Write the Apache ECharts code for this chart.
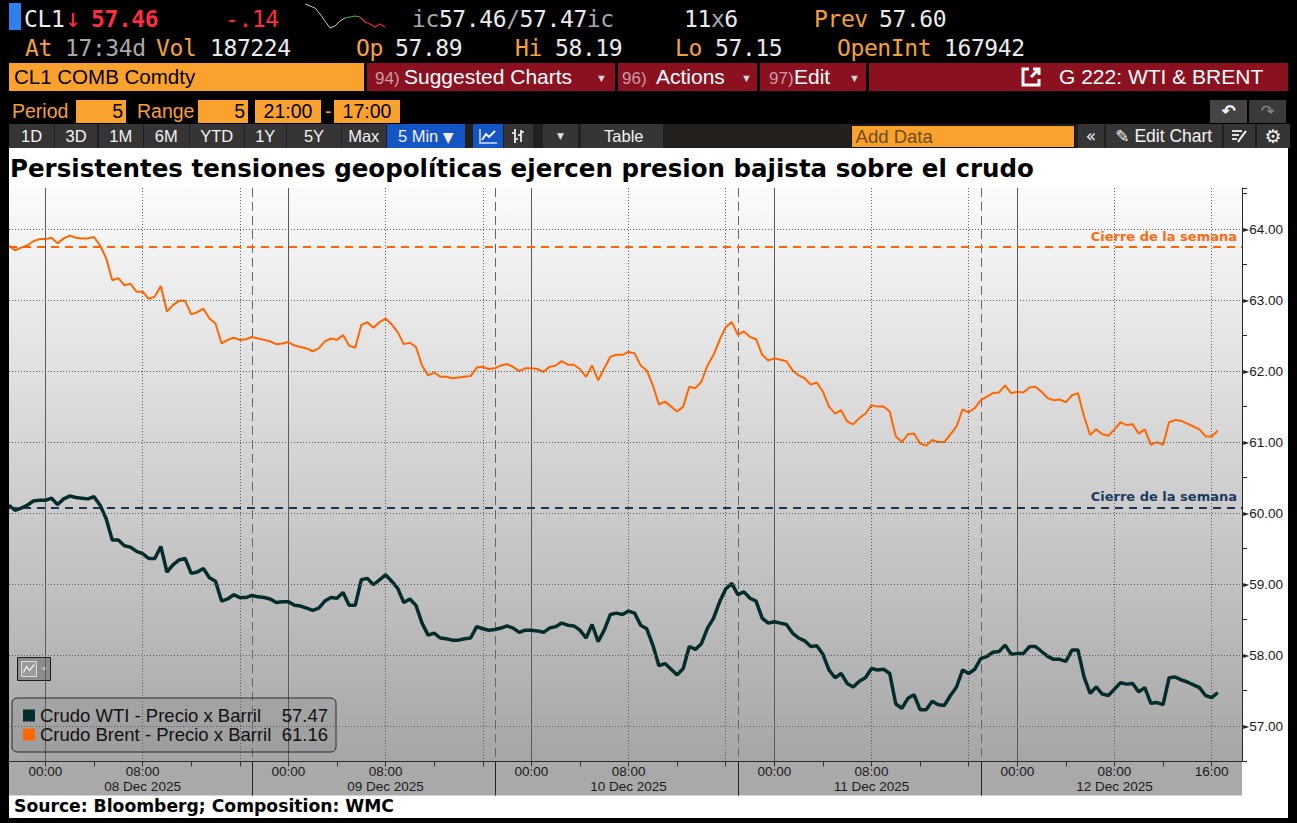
<!DOCTYPE html>
<html>
<head>
<meta charset="utf-8">
<title>CL1 COMB Comdty - G 222: WTI &amp; BRENT</title>
<script src="https://cdn.jsdelivr.net/npm/echarts@6/dist/echarts.min.js"></script>
<style>
  html, body { margin: 0; padding: 0; background: #000; }
  body { width: 1297px; height: 823px; position: relative; overflow: hidden;
         font-family: "Liberation Sans", Arial, sans-serif; }
  .abs { position: absolute; white-space: pre; }
  .mono { font-family: "DejaVu Sans Mono", monospace; font-size: 23px; letter-spacing: -0.4px; line-height: 24px; }
  .w { color: #ececec; } .o { color: #f7a03a; } .g { color: #a9a9a9; } .r { color: #ff2d3f; }
  .seg { position: absolute; top: 63px; height: 28px; background: #8b1121; }
  .r3 { top: 63px; line-height: 28px; font-size: 21px; color: #fff; }
  .num { font-size: 17px; color: #c99aa2; }
  .dd { font-size: 11px; color: #d8d8d8; }
  .r4 { top: 99.5px; height: 23px; line-height: 23px; font-size: 19.5px; }
  .box { background: #fba22e; color: #000; }
  .btn { position: absolute; top: 123.5px; height: 24.5px; line-height: 25px; background: #353535;
         color: #f2f2f2; font-size: 16.5px; text-align: center; white-space: pre; }
  .ico { white-space: normal; line-height: 0; }
  .ico svg { margin-top: 3px; }
  .blue { background: #1455c6; }
  #chart { position: absolute; left: 9px; top: 148px; width: 1279px; height: 670px; background: #fff; }
  #spark { position: absolute; left: 303px; top: 1px; width: 84px; height: 30px; }
</style>
</head>
<body>

<!-- header row 1 -->
<div class="abs" style="left:9px;top:3px;width:12px;height:27px;background:#2f80ed"></div>
<div class="abs mono w" style="left:24px;top:7px">CL1</div>
<div class="abs mono r" style="left:65px;top:6px;font-size:26px">↓</div>
<div class="abs mono r" style="left:91px;top:7px;font-weight:bold">57.46</div>
<div class="abs mono r" style="left:225px;top:7px">-.14</div>
<div id="spark"></div>
<div class="abs mono" style="left:412px;top:7px"><span class="g">ic</span><span class="w">57.46</span><span class="g">/</span><span class="w">57.47</span><span class="g">ic</span></div>
<div class="abs mono" style="left:684px;top:7px"><span class="w">11</span><span class="g">x</span><span class="w">6</span></div>
<div class="abs mono o" style="left:814px;top:7px">Prev</div>
<div class="abs mono w" style="left:879px;top:7px">57.60</div>

<!-- header row 2 -->
<div class="abs mono o" style="left:25px;top:36px">At</div>
<div class="abs mono g" style="left:65px;top:36px">17:34d</div>
<div class="abs mono o" style="left:156px;top:36px">Vol</div>
<div class="abs mono w" style="left:210px;top:36px">187224</div>
<div class="abs mono o" style="left:356px;top:36px">Op</div>
<div class="abs mono w" style="left:395px;top:36px">57.89</div>
<div class="abs mono o" style="left:515px;top:36px">Hi</div>
<div class="abs mono w" style="left:555px;top:36px">58.19</div>
<div class="abs mono o" style="left:675px;top:36px">Lo</div>
<div class="abs mono w" style="left:715px;top:36px">57.15</div>
<div class="abs mono o" style="left:837px;top:36px">OpenInt</div>
<div class="abs mono w" style="left:944px;top:36px">167942</div>

<!-- header row 3 -->
<div class="abs box" style="left:9px;top:63px;width:355px;height:28px"></div>
<div class="abs" style="left:14px;top:63px;line-height:28px;font-size:20.5px;color:#000">CL1 COMB Comdty</div>
<div class="seg" style="left:367px;width:248px"></div>
<div class="seg" style="left:618px;width:139px"></div>
<div class="seg" style="left:760px;width:106px"></div>
<div class="seg" style="left:869px;width:419px"></div>
<div class="abs r3" style="left:375px"><span class="num">94)</span></div>
<div class="abs r3" style="left:404px">Suggested Charts</div>
<div class="abs r3 dd" style="left:596px;line-height:30px">▼</div>
<div class="abs r3" style="left:622px"><span class="num">96)</span></div>
<div class="abs r3" style="left:656px">Actions</div>
<div class="abs r3 dd" style="left:741px;line-height:30px">▼</div>
<div class="abs r3" style="left:769px"><span class="num">97)</span></div>
<div class="abs r3" style="left:794px">Edit</div>
<div class="abs r3 dd" style="left:849px;line-height:30px">▼</div>
<svg class="abs" style="left:1020px;top:66px" width="22" height="22" viewBox="0 0 22 22">
  <path d="M9 3 H3 V19 H19 V13" fill="none" stroke="#fff" stroke-width="3"/>
  <path d="M11 11 L19 3 M13 3 H19 V9" fill="none" stroke="#fff" stroke-width="3"/>
</svg>
<div class="abs r3" style="left:1059px">G 222: WTI &amp; BRENT</div>

<!-- header row 4 -->
<div class="abs r4 o" style="left:12px">Period</div>
<div class="abs r4 box" style="left:76px;width:50px;text-align:right"><span style="padding-right:3px">5</span></div>
<div class="abs r4 o" style="left:137px">Range</div>
<div class="abs r4 box" style="left:198px;width:50px;text-align:right"><span style="padding-right:3px">5</span></div>
<div class="abs r4 box" style="left:255px;width:66px;text-align:center">21:00</div>
<div class="abs r4 o" style="left:325px">-</div>
<div class="abs r4 box" style="left:334px;width:66px;text-align:center">17:00</div>
<div class="abs r4" style="left:1210px;width:37px;background:#444;color:#fff;text-align:center;font-family:'DejaVu Sans';font-size:17px;font-weight:bold">↶</div>
<div class="abs r4" style="left:1249px;width:37px;background:#3a3a3a;color:#8a8a8a;text-align:center;font-family:'DejaVu Sans';font-size:17px">↷</div>

<!-- header row 5 : toolbar -->
<div class="abs" style="left:9px;top:123.5px;width:1281px;height:24.5px;background:#221f1c"></div>
<div class="btn" style="left:9px;width:45px">1D</div>
<div class="btn" style="left:55px;width:42px">3D</div>
<div class="btn" style="left:98.5px;width:44.5px">1M</div>
<div class="btn" style="left:144px;width:44.5px">6M</div>
<div class="btn" style="left:190px;width:53.5px">YTD</div>
<div class="btn" style="left:244.5px;width:41.5px">1Y</div>
<div class="btn" style="left:287px;width:54px">5Y</div>
<div class="btn" style="left:342px;width:43.5px">Max</div>
<div class="btn blue" style="left:386.5px;width:78.5px">5 Min <span style="font-family:'DejaVu Sans';font-size:14px">▼</span></div>
<div class="btn blue ico" style="left:472.5px;width:30px"><svg width="20" height="18" viewBox="0 0 20 18"><path d="M2 2 V16 H19" fill="none" stroke="#cfe0ff" stroke-width="1.5"/><path d="M4 13 L8 7 L11 10 L17 4" fill="none" stroke="#fff" stroke-width="1.8"/></svg></div>
<div class="btn ico" style="left:503.5px;width:29.5px"><svg width="18" height="18" viewBox="0 0 18 18"><path d="M6 2 V16 M3 6 H6 M6 12 H9 M12 3 V15 M9 8 H12 M12 5 H15" fill="none" stroke="#fff" stroke-width="1.6"/></svg></div>
<div class="btn" style="left:543px;width:35px;font-family:'DejaVu Sans';font-size:9px;color:#ddd">▼</div>
<div class="btn" style="left:580.5px;width:82px;text-align:right"><span style="padding-right:19px">Table</span></div>
<div class="abs" style="left:850.5px;top:124.5px;width:222.5px;height:21.5px;background:#fba22e;border:1px solid #111;color:#6e4d17;font-size:18.5px;line-height:22px"> Add Data</div>
<div class="btn" style="left:1078px;width:26px;font-family:'DejaVu Sans';font-size:17px">«</div>
<div class="btn" style="left:1106px;width:115.5px;font-size:17.5px"><span style="font-family:'DejaVu Sans';font-size:17px">✎</span> Edit Chart</div>
<div class="btn ico" style="left:1223.5px;width:31px"><svg width="18" height="18" viewBox="0 0 18 18"><path d="M2 4 H12 M2 8 H9 M2 12 H7" stroke="#ddd" stroke-width="1.8"/><path d="M8 15 L10 12 L16 4" fill="none" stroke="#fff" stroke-width="2"/></svg></div>
<div class="btn" style="left:1256.5px;width:33px;font-family:'DejaVu Sans';font-size:19px">⚙</div>

<div id="chart"></div>

<script>
// ---------- data (30-minute bars) ----------
const chartTitle = 'Persistentes tensiones geopolíticas ejercen presion bajista sobre el crudo';
const sourceNote = 'Source: Bloomberg; Composition: WMC';
const wtiName = 'Crudo WTI - Precio x Barril';
const brentName = 'Crudo Brent - Precio x Barril';
const closeLabel = 'Cierre de la semana';

// trading sessions 21:00 -> 17:00, one per day
const sessionDays = ['08 Dec 2025', '09 Dec 2025', '10 Dec 2025', '11 Dec 2025', '12 Dec 2025'];
const barsPerSession = 40;   // 21:00 .. 16:30
const padBars = 4;           // empty space after the last bar

const brentPrices = [
  63.77, 63.70, 63.74, 63.77, 63.83, 63.86, 63.86, 63.88, 63.80, 63.87,
  63.91, 63.88, 63.87, 63.87, 63.89, 63.77, 63.59, 63.28, 63.31, 63.21,
  63.23, 63.12, 63.12, 63.02, 63.05, 63.20, 62.84, 62.93, 62.99, 62.99,
  62.80, 62.83, 62.88, 62.74, 62.67, 62.39, 62.44, 62.47, 62.44, 62.45,
  62.48, 62.46, 62.44, 62.42, 62.38, 62.39, 62.41, 62.36, 62.34, 62.32,
  62.28, 62.32, 62.42, 62.46, 62.44, 62.51, 62.36, 62.33, 62.65, 62.69,
  62.61, 62.69, 62.74, 62.66, 62.55, 62.38, 62.40, 62.34, 62.08, 61.94,
  61.98, 61.92, 61.92, 61.90, 61.91, 61.92, 61.93, 62.05, 62.06, 62.03,
  62.04, 62.08, 62.10, 62.06, 62.00, 62.04, 62.04, 62.03, 61.99, 62.06,
  62.08, 62.14, 62.09, 62.09, 62.03, 61.92, 62.08, 61.87, 62.04, 62.20,
  62.23, 62.23, 62.27, 62.25, 62.08, 62.01, 61.80, 61.53, 61.57, 61.50,
  61.43, 61.50, 61.78, 61.76, 61.85, 62.08, 62.23, 62.44, 62.62, 62.69,
  62.51, 62.56, 62.48, 62.45, 62.23, 62.15, 62.18, 62.16, 62.14, 62.01,
  61.94, 61.90, 61.81, 61.84, 61.71, 61.50, 61.40, 61.45, 61.29, 61.25,
  61.34, 61.40, 61.52, 61.50, 61.50, 61.43, 61.08, 61.00, 61.11, 61.12,
  60.98, 60.95, 61.03, 61.00, 61.00, 61.11, 61.22, 61.46, 61.42, 61.48,
  61.59, 61.64, 61.69, 61.70, 61.80, 61.69, 61.71, 61.70, 61.77, 61.78,
  61.71, 61.62, 61.59, 61.60, 61.56, 61.66, 61.69, 61.36, 61.10, 61.18,
  61.11, 61.09, 61.18, 61.28, 61.24, 61.25, 61.12, 61.18, 60.96, 61.00,
  60.96, 61.28, 61.31, 61.30, 61.26, 61.22, 61.18, 61.08, 61.08, 61.16
];

const wtiPrices = [
  60.11, 60.04, 60.07, 60.11, 60.17, 60.18, 60.18, 60.21, 60.12, 60.20,
  60.24, 60.22, 60.21, 60.20, 60.23, 60.11, 59.92, 59.62, 59.62, 59.54,
  59.52, 59.46, 59.43, 59.36, 59.36, 59.53, 59.17, 59.27, 59.34, 59.36,
  59.15, 59.17, 59.22, 59.09, 59.04, 58.76, 58.79, 58.85, 58.81, 58.81,
  58.84, 58.82, 58.81, 58.79, 58.74, 58.75, 58.75, 58.70, 58.69, 58.66,
  58.63, 58.66, 58.76, 58.81, 58.80, 58.88, 58.70, 58.70, 59.06, 59.08,
  58.99, 59.06, 59.13, 59.04, 58.94, 58.74, 58.79, 58.70, 58.45, 58.28,
  58.31, 58.24, 58.23, 58.21, 58.21, 58.23, 58.24, 58.40, 58.37, 58.35,
  58.36, 58.38, 58.41, 58.38, 58.32, 58.35, 58.35, 58.34, 58.32, 58.38,
  58.40, 58.45, 58.42, 58.41, 58.35, 58.24, 58.43, 58.19, 58.35, 58.57,
  58.59, 58.57, 58.62, 58.59, 58.42, 58.37, 58.14, 57.85, 57.88, 57.80,
  57.72, 57.81, 58.12, 58.08, 58.16, 58.38, 58.52, 58.75, 58.93, 59.01,
  58.85, 58.89, 58.80, 58.76, 58.52, 58.45, 58.47, 58.45, 58.43, 58.31,
  58.24, 58.20, 58.12, 58.13, 58.01, 57.79, 57.68, 57.74, 57.60, 57.55,
  57.63, 57.68, 57.81, 57.79, 57.80, 57.74, 57.31, 57.25, 57.39, 57.44,
  57.23, 57.23, 57.35, 57.30, 57.29, 57.43, 57.55, 57.79, 57.74, 57.80,
  57.95, 57.98, 58.04, 58.05, 58.14, 58.01, 58.02, 58.02, 58.12, 58.12,
  58.05, 57.98, 57.94, 57.94, 57.91, 58.07, 58.07, 57.69, 57.46, 57.55,
  57.45, 57.43, 57.52, 57.61, 57.59, 57.60, 57.48, 57.54, 57.32, 57.33,
  57.30, 57.68, 57.69, 57.65, 57.62, 57.58, 57.54, 57.43, 57.40, 57.47
];

const brentClose = 63.75;
const wtiClose = 60.08;
const gridLevels = [57, 58, 59, 60, 61, 62, 63, 64];
const yMin = 56.5, yMax = 64.58, yStep = 0.5;

// header sparkline (relative levels)
const sparkValues = [27, 25, 23, 17, 10, 3, 5, 10, 13, 14, 15, 14, 9, 7, 4, 7, 4];

// ---------- categories ----------
function hhmm(min) {
  min = ((min % 1440) + 1440) % 1440;
  return String(Math.floor(min / 60)).padStart(2, '0') + ':' + String(min % 60).padStart(2, '0');
}
const categories = [];
sessionDays.forEach(function (day) {
  for (let k = 0; k < barsPerSession; k++) categories.push(day + '|' + hhmm(21 * 60 + k * 30));
});
for (let k = 0; k < padBars; k++) {
  categories.push(sessionDays[sessionDays.length - 1] + '|' + hhmm(17 * 60 + k * 30));
}
const lastDay = sessionDays[sessionDays.length - 1];
const timeOf = c => c.split('|')[1];
const dayOf = c => c.split('|')[0];

const FONT = '"Liberation Sans", Arial, sans-serif';
const GRID_C = '#5b5b5b';

const chart = echarts.init(document.getElementById('chart'), null, { renderer: 'svg' });

function catAxis(extra) {
  return Object.assign({
    type: 'category', data: categories, boundaryGap: false, position: 'bottom', gridIndex: 0,
    axisLine: { show: false }, axisTick: { show: false }, axisLabel: { show: false },
    splitLine: { show: false }
  }, extra);
}

chart.setOption({
  animation: false,
  title: {
    text: chartTitle, left: 1, top: 8, padding: 0,
    textStyle: { fontFamily: 'DejaVu Sans', fontWeight: 'bold', fontSize: 24.5, color: '#000' }
  },
  grid: {
    left: 0, right: 46, top: 40, bottom: 56.5, show: true, borderWidth: 0,
    containLabel: false, outerBoundsMode: 'none',
    backgroundColor: {
      type: 'linear', x: 0, y: 0, x2: 0, y2: 1,
      colorStops: [{ offset: 0, color: '#fbfbfb' }, { offset: 1, color: '#a6a6a6' }]
    }
  },
  legend: {
    data: [wtiName, brentName], orient: 'vertical', left: 3, top: 550,
    padding: [8, 8, 8, 11], itemGap: 0, itemWidth: 12, itemHeight: 12, icon: 'rect',
    backgroundColor: 'rgba(90,90,90,0.12)', borderColor: '#2a2a2a', borderWidth: 1, borderRadius: 5,
    selectedMode: false,
    formatter: function (name) {
      const vals = name === wtiName ? wtiPrices : brentPrices;
      return '{n|' + name + '}{v|' + vals[vals.length - 1].toFixed(2) + '}';
    },
    textStyle: {
      rich: {
        n: { width: 234, fontFamily: FONT, fontSize: 18.5, color: '#111', lineHeight: 21 },
        v: { width: 54, align: 'right', fontFamily: FONT, fontSize: 18.5, color: '#111', lineHeight: 21 }
      }
    }
  },
  xAxis: [
    catAxis({
      axisLine: { show: true, lineStyle: { color: '#2b2b2b', width: 1 } },
      axisTick: { show: true, length: 5, interval: i => i % 8 === 6, lineStyle: { color: '#333' } },
      axisLabel: {
        show: true, margin: 2, fontFamily: FONT, fontSize: 13.5, lineHeight: 15, color: '#1a1a1a',
        interval: function (i, c) {
          const t = timeOf(c);
          if (i >= sessionDays.length * barsPerSession) return false;
          return t === '00:00' || t === '08:00' || (t === '16:00' && dayOf(c) === lastDay);
        },
        formatter: c => timeOf(c) === '08:00' ? timeOf(c) + '\n' + dayOf(c) : timeOf(c)
      },
      splitLine: { show: true, interval: i => i % barsPerSession === 6,
        lineStyle: { color: GRID_C, width: 1, type: 'solid' } }
    }),
    catAxis({
      splitLine: { show: true,
        interval: i => i % barsPerSession === 22 || i % barsPerSession === 38,
        lineStyle: { color: GRID_C, width: 1, type: [1, 2] } }
    }),
    catAxis({
      axisTick: { show: true, length: 34,
        interval: i => i % barsPerSession === 0 && i > 0 && i < sessionDays.length * barsPerSession,
        lineStyle: { color: '#222', width: 1 } },
      splitLine: { show: true,
        interval: i => i % barsPerSession === 0 && i > 0 && i < sessionDays.length * barsPerSession,
        lineStyle: { color: '#666', width: 1, type: [9, 5] } }
    })
  ],
  yAxis: {
    type: 'value', position: 'right', min: yMin, max: yMax, interval: yStep,
    axisLine: { show: true, lineStyle: { color: '#1b2b2b', width: 1 } },
    axisTick: { show: true, length: 5, lineStyle: { color: '#1b2b2b' } },
    splitLine: { show: false },
    axisLabel: {
      margin: 1, fontFamily: FONT, fontSize: 13.5, color: '#1a1a1a',
      formatter: function (v) {
        return Math.abs(v - Math.round(v)) < 1e-6 ? '{t|►}' + v.toFixed(2) : '';
      },
      rich: { t: { fontFamily: 'DejaVu Sans', fontSize: 8, color: '#1b2b2b' } }
    }
  },
  series: [
    {
      name: 'grid', type: 'line', data: [], z: 1, silent: true,
      markLine: {
        silent: true, symbol: ['none', 'none'], label: { show: false },
        lineStyle: { color: GRID_C, width: 1, type: [1, 2] },
        data: gridLevels.map(v => ({ yAxis: v }))
      }
    },
    {
      name: wtiName, type: 'line', data: wtiPrices, showSymbol: false, symbol: 'none', z: 3,
      itemStyle: { color: '#042c2c' }, lineStyle: { color: '#042c2c', width: 3.5 },
      markLine: {
        silent: true, symbol: ['none', 'none'],
        lineStyle: { color: '#1b3350', width: 2, type: [8, 6] },
        label: { show: true, position: 'insideEndTop', formatter: closeLabel, distance: [5, 4],
          fontFamily: 'DejaVu Sans', fontWeight: 'bold', fontSize: 13, color: '#1b3a60' },
        data: [{ yAxis: wtiClose }]
      }
    },
    {
      name: brentName, type: 'line', data: brentPrices, showSymbol: false, symbol: 'none', z: 3,
      itemStyle: { color: '#ff6600' }, lineStyle: { color: '#ff6600', width: 2 },
      markLine: {
        silent: true, symbol: ['none', 'none'],
        lineStyle: { color: '#ff6600', width: 2, type: [8, 6] },
        label: { show: true, position: 'insideEndTop', formatter: closeLabel, distance: [5, 4],
          fontFamily: 'DejaVu Sans', fontWeight: 'bold', fontSize: 13, color: '#ff6a10' },
        data: [{ yAxis: brentClose }]
      }
    }
  ],
  graphic: [
    { type: 'rect', z: -10, silent: true, shape: { x: 0, y: 613.5, width: 1233, height: 34 },
      style: { fill: '#a9a9a9' } },
    { type: 'text', left: 5, top: 649, silent: true,
      style: { text: sourceNote, font: 'bold 17.2px "DejaVu Sans"', fill: '#000' } },
    { type: 'group', left: 8, top: 509, z: 5, silent: true, children: [
      { type: 'rect', shape: { x: 0, y: 0, width: 33, height: 23 },
        style: { fill: '#8c8c8c', stroke: '#1a1a1a', lineWidth: 1 } },
      { type: 'rect', shape: { x: 4, y: 4, width: 15, height: 15 },
        style: { fill: '#9a9a9a', stroke: '#e0e0e0', lineWidth: 1 } },
      { type: 'polyline', shape: { points: [[6, 15], [9, 9], [12, 13], [17, 7]] },
        style: { stroke: '#f4f4f4', lineWidth: 1.2, fill: null } },
      { type: 'polygon', shape: { points: [[24, 10], [30, 10], [27, 13]] },
        style: { fill: '#cfcfcf' } }
    ] }
  ]
});

// header sparkline
const spark = echarts.init(document.getElementById('spark'), null, { renderer: 'svg' });
const sparkPart = (from, to) => sparkValues.map((v, i) => (i >= from && i <= to ? v : null));
spark.setOption({
  animation: false,
  grid: { left: 2, right: 2, top: 0, bottom: 0, outerBoundsMode: 'none' },
  xAxis: { type: 'category', show: false, boundaryGap: false, data: sparkValues.map((v, i) => i) },
  yAxis: { type: 'value', show: false, min: 0, max: 30 },
  series: [
    { type: 'line', data: sparkPart(0, 8), symbol: 'none', lineStyle: { color: '#c8c8c8', width: 1 } },
    { type: 'line', data: sparkPart(8, 11), symbol: 'none', lineStyle: { color: '#3cb043', width: 1.2 } },
    { type: 'line', data: sparkPart(11, 16), symbol: 'none', lineStyle: { color: '#e8303a', width: 1.2 } }
  ]
});
</script>
</body>
</html>
